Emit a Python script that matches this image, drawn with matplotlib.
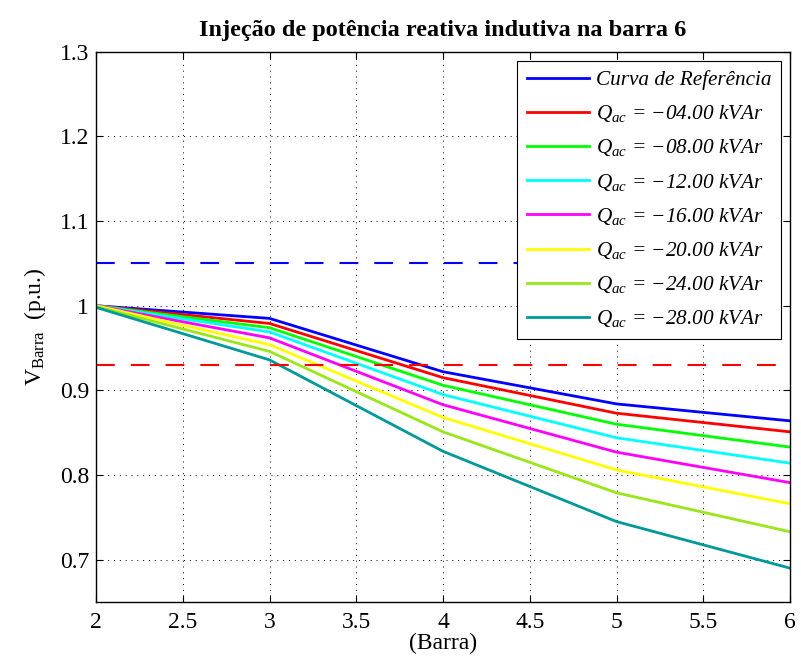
import numpy as np
import matplotlib
matplotlib.use('Agg')
import matplotlib.pyplot as plt

plt.rcParams['font.family'] = ['Liberation Serif', 'DejaVu Serif']
plt.rcParams['mathtext.fontset'] = 'custom'
plt.rcParams['mathtext.rm'] = 'Liberation Serif'
plt.rcParams['mathtext.it'] = 'Liberation Serif:italic'

barras = [2, 3, 4, 5, 6]

# tensoes por barra (p.u.)
v_ref = [1.000, 0.985, 0.922, 0.884, 0.864]
v_q04 = [1.000, 0.979, 0.915, 0.873, 0.851]
v_q08 = [1.000, 0.974, 0.906, 0.860, 0.833]
v_q12 = [1.000, 0.969, 0.895, 0.844, 0.814]
v_q16 = [1.000, 0.962, 0.883, 0.827, 0.791]
v_q20 = [1.000, 0.954, 0.868, 0.806, 0.766]
v_q24 = [0.999, 0.946, 0.851, 0.779, 0.733]
v_q28 = [0.998, 0.936, 0.828, 0.745, 0.690]

q_vals = [4, 8, 12, 16, 20, 24, 28]
curvas = [v_q04, v_q08, v_q12, v_q16, v_q20, v_q24, v_q28]
cores = ['#ff0000', '#00ff00', '#00ffff', '#ff00ff', '#ffff00', '#99e619', '#009999']

lim_sup = 1.05
lim_inf = 0.93

fig = plt.figure(figsize=(8.01, 6.62), dpi=100)
ax = fig.add_axes([0.1199, 0.0906, 0.8664, 0.8313])

ax.plot(barras, v_ref, color='#0000ff', lw=2.0, label='Curva de Referência')
for q, v, c in zip(q_vals, curvas, cores):
    ax.plot(barras, v, color=c, lw=2.0,
            label='$Q_{ac}$ = \u2212%05.2f kVAr' % q)

ax.axhline(lim_sup, color='#0000ff', ls=(0, (9, 7.7)), lw=1.5)
ax.axhline(lim_inf, color='#ff0000', ls=(0, (9, 7.7)), lw=1.5)

ax.set_xlim(2, 6)
ax.set_ylim(0.65, 1.3)
ax.set_xticks(np.arange(2, 6.01, 0.5))
ax.set_xticklabels(['2', '2.5', '3', '3.5', '4', '4.5', '5', '5.5', '6'])
ax.set_yticks([0.7, 0.8, 0.9, 1.0, 1.1, 1.2, 1.3])
ax.set_yticklabels(['0.7', '0.8', '0.9', '1', '1.1', '1.2', '1.3'])
ax.tick_params(direction='in', top=True, right=True, labelsize=17, length=5)
ax.tick_params(axis='x', pad=7)
ax.tick_params(axis='y', pad=5)
ax.grid(True, color='k', ls=(0, (1, 5)), lw=0.7)
for s in ax.spines.values():
    s.set_linewidth(1.0)

ax.set_xlabel('(Barra)', fontsize=17, labelpad=0)
ax.set_ylabel('V$_{\\mathrm{Barra}}$  (p.u.)', fontsize=17, labelpad=8)
ax.set_title('Injeção de potência reativa indutiva na barra 6', fontsize=17.5,
             fontweight='bold', pad=11)

leg = ax.legend(loc='upper right', prop={'size': 15.3, 'style': 'italic'},
                frameon=True, fancybox=False, edgecolor='k', framealpha=1,
                borderpad=0.45, labelspacing=0.62, handlelength=2.9,
                handletextpad=0.35, borderaxespad=0.42)
leg.get_frame().set_linewidth(0.8)

fig.savefig('out.png', dpi=100)
